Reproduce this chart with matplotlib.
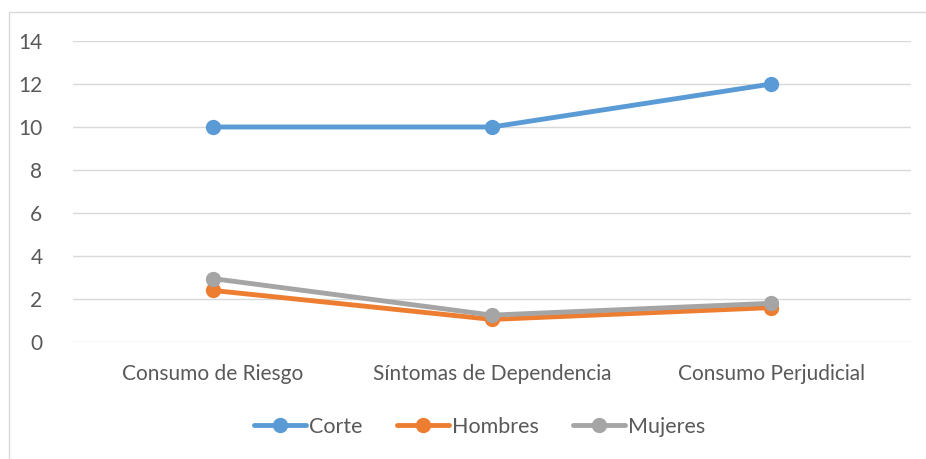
import matplotlib.pyplot as plt
from matplotlib.patches import Rectangle

# data
categories = ['Consumo de Riesgo', 'Síntomas de Dependencia', 'Consumo Perjudicial']
corte = [10, 10, 12]
hombres = [2.4, 1.05, 1.6]
mujeres = [2.95, 1.25, 1.8]
series_names = ['Corte', 'Hombres', 'Mujeres']
y_ticks = [0, 2, 4, 6, 8, 10, 12, 14]

COLORS = ['#5B9BD5', '#ED7D31', '#A5A5A5']
TEXT = '#595959'
GRID = '#D9D9D9'

plt.rcParams['font.family'] = ['Lato', 'DejaVu Sans']

fig = plt.figure(figsize=(9.26, 4.59), dpi=100)
fig.patch.set_facecolor('white')

# chart-area border (partly cut off on the right/bottom in the reference)
fig.patches.append(Rectangle((9 / 926, -0.05), 1.2, 1 - 12 / 459 + 0.05,
                             transform=fig.transFigure, fill=False,
                             edgecolor=GRID, linewidth=1.0))

ax = fig.add_axes([73 / 926, 117 / 459, 838 / 926, 301 / 459])

x = range(len(categories))
for name, vals, col in zip(series_names, [corte, hombres, mujeres], COLORS):
    ax.plot(x, vals, color=col, linewidth=3.5, marker='o', markersize=10,
            label=name, solid_capstyle='round', zorder=3)

ax.set_xlim(-0.5, len(categories) - 0.5)
ax.set_ylim(0, 14)
ax.set_yticks(y_ticks)
ax.set_xticks(list(x))
ax.set_xticklabels(categories)
ax.tick_params(axis='both', length=0, colors=TEXT, labelsize=15)
ax.tick_params(axis='y', pad=22)
ax.tick_params(axis='x', pad=16)
ax.grid(axis='y', color=GRID, linewidth=1.0, zorder=0)
ax.set_axisbelow(True)
for s in ax.spines.values():
    s.set_visible(False)

leg = fig.legend(loc='center', bbox_to_anchor=(480 / 926, 1 - 427 / 459),
                 ncol=3, frameon=False, fontsize=15.5, handlelength=2.4,
                 handletextpad=0.15, columnspacing=1.6)
for t in leg.get_texts():
    t.set_color(TEXT)

fig.savefig('out.png', dpi=100)
